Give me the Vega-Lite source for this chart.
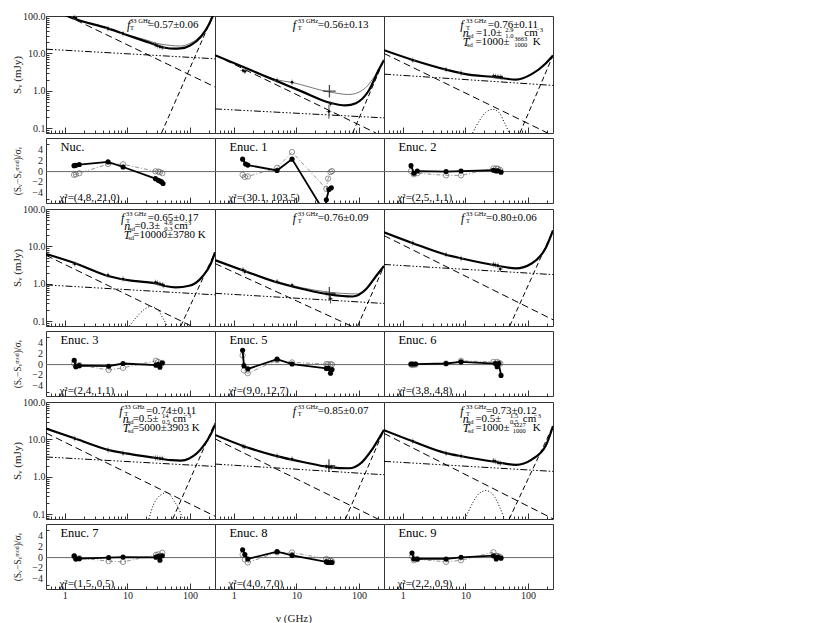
{
"$schema": "https://vega.github.io/schema/vega-lite/v6.json",
"background": "white",
"padding": {"left": 11, "top": 11, "right": 5, "bottom": 5},
"config": {
 "font": "Liberation Serif",
 "view": {"stroke": "#333", "strokeWidth": 1},
 "axis": {"labelFont": "Liberation Serif", "labelFontSize": 10, "labelColor": "#222", "titleFont": "Liberation Serif", "titleFontSize": 11, "titleFontWeight": "normal", "titleColor": "#222", "tickColor": "#333", "domain": false, "grid": false, "labelPadding": 7, "labelOverlap": false},
 "text": {"font": "Liberation Serif", "color": "#222"}
},
"datasets": {
"sed": [
{"r":0,"c":0,"k":"tot","nu":0.5,"S":200},{"r":0,"c":0,"k":"tot","nu":1.1,"S":100},{"r":0,"c":0,"k":"tot","nu":5,"S":46},{"r":0,"c":0,"k":"tot","nu":10,"S":30.7},{"r":0,"c":0,"k":"tot","nu":20,"S":20.7},{"r":0,"c":0,"k":"tot","nu":30,"S":16.3},{"r":0,"c":0,"k":"tot","nu":40,"S":14.2},{"r":0,"c":0,"k":"tot","nu":55,"S":13.4},{"r":0,"c":0,"k":"tot","nu":70,"S":13.6},{"r":0,"c":0,"k":"tot","nu":100,"S":16.3},{"r":0,"c":0,"k":"tot","nu":150,"S":28.4},{"r":0,"c":0,"k":"tot","nu":200,"S":58.8},{"r":0,"c":0,"k":"tot","nu":230,"S":100},{"r":0,"c":0,"k":"tot","nu":250,"S":135},
{"r":0,"c":0,"k":"alt","nu":0.5,"S":200},{"r":0,"c":0,"k":"alt","nu":1.1,"S":100},{"r":0,"c":0,"k":"alt","nu":5,"S":46.5},{"r":0,"c":0,"k":"alt","nu":10,"S":31.5},{"r":0,"c":0,"k":"alt","nu":20,"S":22.8},{"r":0,"c":0,"k":"alt","nu":30,"S":18.5},{"r":0,"c":0,"k":"alt","nu":50,"S":16.3},{"r":0,"c":0,"k":"alt","nu":70,"S":15.8},{"r":0,"c":0,"k":"alt","nu":100,"S":18.6},{"r":0,"c":0,"k":"alt","nu":150,"S":30.7},{"r":0,"c":0,"k":"alt","nu":200,"S":65},{"r":0,"c":0,"k":"alt","nu":225,"S":100},{"r":0,"c":0,"k":"alt","nu":250,"S":140},
{"r":0,"c":0,"k":"comp","s":"syn","nu":0.5,"S":189},{"r":0,"c":0,"k":"comp","s":"syn","nu":250,"S":1.27},
{"r":0,"c":0,"k":"comp","s":"ff","nu":0.5,"S":13},{"r":0,"c":0,"k":"comp","s":"ff","nu":250,"S":7.2},
{"r":0,"c":0,"k":"comp","s":"dust","nu":35,"S":0.075},{"r":0,"c":0,"k":"comp","s":"dust","nu":230,"S":100},
{"r":0,"c":0,"k":"pt","nu":1.4,"S":93},{"r":0,"c":0,"k":"pt","nu":1.5,"S":88},{"r":0,"c":0,"k":"pt","nu":4.9,"S":46},{"r":0,"c":0,"k":"pt","nu":8.5,"S":34},{"r":0,"c":0,"k":"pt","nu":28,"S":17},{"r":0,"c":0,"k":"pt","nu":30,"S":16},{"r":0,"c":0,"k":"pt","nu":33,"S":15},{"r":0,"c":0,"k":"pt","nu":36,"S":14.5},
{"r":0,"c":1,"k":"tot","nu":0.5,"S":9.0},{"r":0,"c":1,"k":"tot","nu":1.77,"S":3.7},{"r":0,"c":1,"k":"tot","nu":4.7,"S":1.88},{"r":0,"c":1,"k":"tot","nu":12.6,"S":0.94},{"r":0,"c":1,"k":"tot","nu":33,"S":0.49},{"r":0,"c":1,"k":"tot","nu":61,"S":0.41},{"r":0,"c":1,"k":"tot","nu":89,"S":0.47},{"r":0,"c":1,"k":"tot","nu":144,"S":1.04},{"r":0,"c":1,"k":"tot","nu":207,"S":3.7},{"r":0,"c":1,"k":"tot","nu":250,"S":6.7},
{"r":0,"c":1,"k":"alt","nu":0.5,"S":9.0},{"r":0,"c":1,"k":"alt","nu":1.77,"S":3.75},{"r":0,"c":1,"k":"alt","nu":4.7,"S":2.0},{"r":0,"c":1,"k":"alt","nu":8.2,"S":1.7},{"r":0,"c":1,"k":"alt","nu":33,"S":0.94},{"r":0,"c":1,"k":"alt","nu":69,"S":0.8},{"r":0,"c":1,"k":"alt","nu":113,"S":1.04},{"r":0,"c":1,"k":"alt","nu":186,"S":2.8},{"r":0,"c":1,"k":"alt","nu":250,"S":6.7},
{"r":0,"c":1,"k":"comp","s":"syn","nu":0.5,"S":9.0},{"r":0,"c":1,"k":"comp","s":"syn","nu":186,"S":0.075},
{"r":0,"c":1,"k":"comp","s":"ff","nu":0.5,"S":0.33},{"r":0,"c":1,"k":"comp","s":"ff","nu":250,"S":0.19},
{"r":0,"c":1,"k":"comp","s":"dust","nu":79,"S":0.075},{"r":0,"c":1,"k":"comp","s":"dust","nu":250,"S":6.7},
{"r":0,"c":1,"k":"pt","nu":1.4,"S":3.5},{"r":0,"c":1,"k":"pt","nu":1.5,"S":3.3},{"r":0,"c":1,"k":"pt","nu":4.9,"S":1.9},{"r":0,"c":1,"k":"pt","nu":8.5,"S":1.7,"lo":1.55,"hi":1.85},{"r":0,"c":1,"k":"pt","nu":33,"S":0.28,"lo":0.18,"hi":0.42},{"r":0,"c":1,"k":"pt","nu":35,"S":0.45},
{"r":0,"c":1,"k":"big","nu":33.6,"S":0.98},
{"r":0,"c":2,"k":"tot","nu":0.5,"S":12.2},{"r":0,"c":2,"k":"tot","nu":1.44,"S":6.7},{"r":0,"c":2,"k":"tot","nu":4.9,"S":3.7},{"r":0,"c":2,"k":"tot","nu":9.1,"S":2.9},{"r":0,"c":2,"k":"tot","nu":31,"S":2.3},{"r":0,"c":2,"k":"tot","nu":64,"S":2.0},{"r":0,"c":2,"k":"tot","nu":114,"S":2.8},{"r":0,"c":2,"k":"tot","nu":193,"S":5.5},{"r":0,"c":2,"k":"tot","nu":250,"S":8.8},
{"r":0,"c":2,"k":"comp","s":"syn","nu":0.5,"S":10},{"r":0,"c":2,"k":"comp","s":"syn","nu":205,"S":0.075},
{"r":0,"c":2,"k":"comp","s":"ff","nu":0.5,"S":2.8},{"r":0,"c":2,"k":"comp","s":"ff","nu":250,"S":1.4},
{"r":0,"c":2,"k":"comp","s":"dust","nu":74,"S":0.075},{"r":0,"c":2,"k":"comp","s":"dust","nu":250,"S":8.8},
{"r":0,"c":2,"k":"spd","nu":13,"S":0.075},{"r":0,"c":2,"k":"spd","nu":16.7,"S":0.16},{"r":0,"c":2,"k":"spd","nu":21.3,"S":0.27},{"r":0,"c":2,"k":"spd","nu":27.3,"S":0.32},{"r":0,"c":2,"k":"spd","nu":34.6,"S":0.26},{"r":0,"c":2,"k":"spd","nu":41.6,"S":0.146},{"r":0,"c":2,"k":"spd","nu":50,"S":0.075},
{"r":0,"c":2,"k":"pt","nu":1.44,"S":6.6},{"r":0,"c":2,"k":"pt","nu":4.9,"S":3.7},{"r":0,"c":2,"k":"pt","nu":8.5,"S":3.0},{"r":0,"c":2,"k":"pt","nu":28,"S":2.5},{"r":0,"c":2,"k":"pt","nu":30,"S":2.45},{"r":0,"c":2,"k":"pt","nu":33,"S":2.4},{"r":0,"c":2,"k":"pt","nu":36,"S":2.35},{"r":0,"c":2,"k":"pt","nu":38,"S":2.3},
{"r":1,"c":0,"k":"tot","nu":0.5,"S":6.3},{"r":1,"c":0,"k":"tot","nu":1.5,"S":3.5},{"r":1,"c":0,"k":"tot","nu":5.1,"S":1.6},{"r":1,"c":0,"k":"tot","nu":10.7,"S":1.24},{"r":1,"c":0,"k":"tot","nu":20,"S":1.12},{"r":1,"c":0,"k":"tot","nu":28.5,"S":1.03},{"r":1,"c":0,"k":"tot","nu":40,"S":0.88},{"r":1,"c":0,"k":"tot","nu":59,"S":0.81},{"r":1,"c":0,"k":"tot","nu":97,"S":0.89},{"r":1,"c":0,"k":"tot","nu":159,"S":1.6},{"r":1,"c":0,"k":"tot","nu":215,"S":3.5},{"r":1,"c":0,"k":"tot","nu":250,"S":7.0},
{"r":1,"c":0,"k":"comp","s":"syn","nu":0.5,"S":5.8},{"r":1,"c":0,"k":"comp","s":"syn","nu":110,"S":0.072},
{"r":1,"c":0,"k":"comp","s":"ff","nu":0.5,"S":0.94},{"r":1,"c":0,"k":"comp","s":"ff","nu":250,"S":0.51},
{"r":1,"c":0,"k":"comp","s":"dust","nu":71,"S":0.075},{"r":1,"c":0,"k":"comp","s":"dust","nu":250,"S":7.0},
{"r":1,"c":0,"k":"spd","nu":10.7,"S":0.075},{"r":1,"c":0,"k":"spd","nu":14,"S":0.13},{"r":1,"c":0,"k":"spd","nu":18,"S":0.2},{"r":1,"c":0,"k":"spd","nu":23.7,"S":0.25},{"r":1,"c":0,"k":"spd","nu":30,"S":0.21},{"r":1,"c":0,"k":"spd","nu":36,"S":0.13},{"r":1,"c":0,"k":"spd","nu":43,"S":0.075},
{"r":1,"c":0,"k":"pt","nu":1.44,"S":3.4},{"r":1,"c":0,"k":"pt","nu":4.9,"S":1.7},{"r":1,"c":0,"k":"pt","nu":8.5,"S":1.35},{"r":1,"c":0,"k":"pt","nu":28,"S":1.1},{"r":1,"c":0,"k":"pt","nu":30,"S":1.05},{"r":1,"c":0,"k":"pt","nu":33,"S":1.0},{"r":1,"c":0,"k":"pt","nu":36,"S":0.95},{"r":1,"c":0,"k":"pt","nu":38,"S":0.9},
{"r":1,"c":1,"k":"tot","nu":0.5,"S":4.3},{"r":1,"c":1,"k":"tot","nu":1.56,"S":2.15},{"r":1,"c":1,"k":"tot","nu":4.5,"S":1.14},{"r":1,"c":1,"k":"tot","nu":12.6,"S":0.73},{"r":1,"c":1,"k":"tot","nu":33.5,"S":0.52},{"r":1,"c":1,"k":"tot","nu":79,"S":0.46},{"r":1,"c":1,"k":"tot","nu":130,"S":0.73},{"r":1,"c":1,"k":"tot","nu":186,"S":1.6},{"r":1,"c":1,"k":"tot","nu":250,"S":3.0},
{"r":1,"c":1,"k":"alt","nu":0.5,"S":4.3},{"r":1,"c":1,"k":"alt","nu":1.56,"S":2.2},{"r":1,"c":1,"k":"alt","nu":4.5,"S":1.2},{"r":1,"c":1,"k":"alt","nu":12.6,"S":0.78},{"r":1,"c":1,"k":"alt","nu":33.5,"S":0.6},{"r":1,"c":1,"k":"alt","nu":89,"S":0.54},{"r":1,"c":1,"k":"alt","nu":140,"S":0.8},{"r":1,"c":1,"k":"alt","nu":190,"S":1.7},{"r":1,"c":1,"k":"alt","nu":250,"S":3.0},
{"r":1,"c":1,"k":"comp","s":"syn","nu":0.5,"S":3.5},{"r":1,"c":1,"k":"comp","s":"syn","nu":79,"S":0.072},
{"r":1,"c":1,"k":"comp","s":"ff","nu":0.5,"S":0.56},{"r":1,"c":1,"k":"comp","s":"ff","nu":250,"S":0.30},
{"r":1,"c":1,"k":"comp","s":"dust","nu":95,"S":0.075},{"r":1,"c":1,"k":"comp","s":"dust","nu":250,"S":3.0},
{"r":1,"c":1,"k":"pt","nu":1.4,"S":2.4},{"r":1,"c":1,"k":"pt","nu":1.5,"S":2.1},{"r":1,"c":1,"k":"pt","nu":4.9,"S":1.15},{"r":1,"c":1,"k":"pt","nu":8.5,"S":0.92},{"r":1,"c":1,"k":"pt","nu":30,"S":0.55},{"r":1,"c":1,"k":"pt","nu":35,"S":0.4,"lo":0.3,"hi":0.5},
{"r":1,"c":1,"k":"big","nu":33.5,"S":0.56},
{"r":1,"c":2,"k":"tot","nu":0.5,"S":23.8},{"r":1,"c":2,"k":"tot","nu":1.44,"S":12.2},{"r":1,"c":2,"k":"tot","nu":4.9,"S":6.0},{"r":1,"c":2,"k":"tot","nu":9.1,"S":4.7},{"r":1,"c":2,"k":"tot","nu":31,"S":3.1},{"r":1,"c":2,"k":"tot","nu":64,"S":2.6},{"r":1,"c":2,"k":"tot","nu":114,"S":3.5},{"r":1,"c":2,"k":"tot","nu":193,"S":9.4},{"r":1,"c":2,"k":"tot","nu":250,"S":26.8},
{"r":1,"c":2,"k":"comp","s":"syn","nu":0.5,"S":19.5},{"r":1,"c":2,"k":"comp","s":"syn","nu":250,"S":0.11},
{"r":1,"c":2,"k":"comp","s":"ff","nu":0.5,"S":3.3},{"r":1,"c":2,"k":"comp","s":"ff","nu":250,"S":1.77},
{"r":1,"c":2,"k":"comp","s":"dust","nu":51,"S":0.075},{"r":1,"c":2,"k":"comp","s":"dust","nu":250,"S":26.8},
{"r":1,"c":2,"k":"pt","nu":1.44,"S":12.3},{"r":1,"c":2,"k":"pt","nu":4.9,"S":6.0},{"r":1,"c":2,"k":"pt","nu":8.5,"S":4.8},{"r":1,"c":2,"k":"pt","nu":28,"S":3.3},{"r":1,"c":2,"k":"pt","nu":30,"S":3.2},{"r":1,"c":2,"k":"pt","nu":33,"S":3.1},{"r":1,"c":2,"k":"pt","nu":36,"S":2.5,"lo":2.1,"hi":2.9},
{"r":2,"c":0,"k":"tot","nu":0.5,"S":19.5},{"r":2,"c":0,"k":"tot","nu":1.5,"S":10.4},{"r":2,"c":0,"k":"tot","nu":5.1,"S":5.2},{"r":2,"c":0,"k":"tot","nu":10.7,"S":4.1},{"r":2,"c":0,"k":"tot","nu":28.5,"S":3.2},{"r":2,"c":0,"k":"tot","nu":50,"S":2.8},{"r":2,"c":0,"k":"tot","nu":71,"S":2.73},{"r":2,"c":0,"k":"tot","nu":97,"S":3.1},{"r":2,"c":0,"k":"tot","nu":159,"S":6.3},{"r":2,"c":0,"k":"tot","nu":215,"S":14},{"r":2,"c":0,"k":"tot","nu":250,"S":25},
{"r":2,"c":0,"k":"comp","s":"syn","nu":0.5,"S":14.9},{"r":2,"c":0,"k":"comp","s":"syn","nu":250,"S":0.089},
{"r":2,"c":0,"k":"comp","s":"ff","nu":0.5,"S":3.4},{"r":2,"c":0,"k":"comp","s":"ff","nu":250,"S":1.9},
{"r":2,"c":0,"k":"comp","s":"dust","nu":52.8,"S":0.075},{"r":2,"c":0,"k":"comp","s":"dust","nu":250,"S":28},
{"r":2,"c":0,"k":"spd","nu":22,"S":0.075},{"r":2,"c":0,"k":"spd","nu":26,"S":0.18},{"r":2,"c":0,"k":"spd","nu":30,"S":0.27},{"r":2,"c":0,"k":"spd","nu":35,"S":0.34},{"r":2,"c":0,"k":"spd","nu":41,"S":0.38},{"r":2,"c":0,"k":"spd","nu":48,"S":0.33},{"r":2,"c":0,"k":"spd","nu":56,"S":0.22},{"r":2,"c":0,"k":"spd","nu":65,"S":0.15},{"r":2,"c":0,"k":"spd","nu":76,"S":0.075},
{"r":2,"c":0,"k":"pt","nu":1.44,"S":10.5},{"r":2,"c":0,"k":"pt","nu":4.9,"S":5.2},{"r":2,"c":0,"k":"pt","nu":8.5,"S":4.3},{"r":2,"c":0,"k":"pt","nu":28,"S":3.2},{"r":2,"c":0,"k":"pt","nu":30,"S":3.2},{"r":2,"c":0,"k":"pt","nu":33,"S":3.1},{"r":2,"c":0,"k":"pt","nu":36,"S":3.1},
{"r":2,"c":1,"k":"tot","nu":0.5,"S":13.2},{"r":2,"c":1,"k":"tot","nu":1.56,"S":6.3},{"r":2,"c":1,"k":"tot","nu":4.5,"S":3.7},{"r":2,"c":1,"k":"tot","nu":12.6,"S":2.5},{"r":2,"c":1,"k":"tot","nu":33.5,"S":1.83},{"r":2,"c":1,"k":"tot","nu":70,"S":1.7},{"r":2,"c":1,"k":"tot","nu":101,"S":2.15},{"r":2,"c":1,"k":"tot","nu":166,"S":5.8},{"r":2,"c":1,"k":"tot","nu":250,"S":18},
{"r":2,"c":1,"k":"comp","s":"syn","nu":0.5,"S":10.4},{"r":2,"c":1,"k":"comp","s":"syn","nu":210,"S":0.072},
{"r":2,"c":1,"k":"comp","s":"ff","nu":0.5,"S":2.2},{"r":2,"c":1,"k":"comp","s":"ff","nu":250,"S":1.14},
{"r":2,"c":1,"k":"comp","s":"dust","nu":60.6,"S":0.075},{"r":2,"c":1,"k":"comp","s":"dust","nu":250,"S":18},
{"r":2,"c":1,"k":"pt","nu":1.4,"S":6.6},{"r":2,"c":1,"k":"pt","nu":1.5,"S":6.3},{"r":2,"c":1,"k":"pt","nu":4.9,"S":3.6},{"r":2,"c":1,"k":"pt","nu":8.5,"S":3.0},{"r":2,"c":1,"k":"pt","nu":30,"S":1.9},{"r":2,"c":1,"k":"pt","nu":33,"S":1.8},{"r":2,"c":1,"k":"pt","nu":36,"S":1.8},
{"r":2,"c":1,"k":"big","nu":33,"S":2.0},
{"r":2,"c":2,"k":"tot","nu":0.5,"S":17.7},{"r":2,"c":2,"k":"tot","nu":1.44,"S":8.9},{"r":2,"c":2,"k":"tot","nu":4.9,"S":4.3},{"r":2,"c":2,"k":"tot","nu":9.1,"S":3.5},{"r":2,"c":2,"k":"tot","nu":31,"S":2.5},{"r":2,"c":2,"k":"tot","nu":64,"S":2.1},{"r":2,"c":2,"k":"tot","nu":114,"S":2.9},{"r":2,"c":2,"k":"tot","nu":193,"S":7.0},{"r":2,"c":2,"k":"tot","nu":250,"S":22.8},
{"r":2,"c":2,"k":"comp","s":"syn","nu":0.5,"S":14.5},{"r":2,"c":2,"k":"comp","s":"syn","nu":250,"S":0.076},
{"r":2,"c":2,"k":"comp","s":"ff","nu":0.5,"S":2.6},{"r":2,"c":2,"k":"comp","s":"ff","nu":250,"S":1.4},
{"r":2,"c":2,"k":"comp","s":"dust","nu":50,"S":0.075},{"r":2,"c":2,"k":"comp","s":"dust","nu":250,"S":22.8},
{"r":2,"c":2,"k":"spd","nu":9.9,"S":0.075},{"r":2,"c":2,"k":"spd","nu":13,"S":0.2},{"r":2,"c":2,"k":"spd","nu":16.7,"S":0.365},{"r":2,"c":2,"k":"spd","nu":21.4,"S":0.43},{"r":2,"c":2,"k":"spd","nu":29,"S":0.3},{"r":2,"c":2,"k":"spd","nu":34.6,"S":0.166},{"r":2,"c":2,"k":"spd","nu":42,"S":0.075},
{"r":2,"c":2,"k":"pt","nu":1.44,"S":9},{"r":2,"c":2,"k":"pt","nu":4.9,"S":4.3},{"r":2,"c":2,"k":"pt","nu":8.5,"S":3.6},{"r":2,"c":2,"k":"pt","nu":28,"S":2.7},{"r":2,"c":2,"k":"pt","nu":30,"S":2.6},{"r":2,"c":2,"k":"pt","nu":33,"S":2.4},{"r":2,"c":2,"k":"pt","nu":36,"S":2.3},
{"r":0,"c":0,"k":"t","v":"i","t":"f","nu":9.84,"S":58.7},{"r":0,"c":0,"k":"t","v":"b","t":"T","nu":11.0,"S":47.8},{"r":0,"c":0,"k":"t","v":"p","t":"33 GHz","nu":11.0,"S":74.5},{"r":0,"c":0,"k":"t","v":"m","t":"=0.57±0.06","nu":21.1,"S":58.7},
{"r":0,"c":1,"k":"t","v":"i","t":"f","nu":8.71,"S":58.7},{"r":0,"c":1,"k":"t","v":"b","t":"T","nu":10.5,"S":47.8},{"r":0,"c":1,"k":"t","v":"p","t":"33 GHz","nu":10.5,"S":74.5},{"r":0,"c":1,"k":"t","v":"m","t":"=0.56±0.13","nu":21.9,"S":58.7},
{"r":0,"c":2,"k":"t","v":"i","t":"f","nu":8.28,"S":58.7},{"r":0,"c":2,"k":"t","v":"b","t":"T","nu":10.2,"S":47.8},{"r":0,"c":2,"k":"t","v":"p","t":"33 GHz","nu":10.2,"S":74.5},{"r":0,"c":2,"k":"t","v":"m","t":"=0.76±0.11","nu":22.7,"S":58.7},
{"r":0,"c":2,"k":"t","v":"i","t":"n","nu":9.04,"S":34.5},{"r":0,"c":2,"k":"t","v":"b","t":"sd","nu":10.9,"S":28.9},{"r":0,"c":2,"k":"t","v":"m","t":"=1.0±","nu":14.7,"S":34.5},{"r":0,"c":2,"k":"t","v":"p","t":"2.9","nu":43.3,"S":42.5},{"r":0,"c":2,"k":"t","v":"b","t":"1.0","nu":43.3,"S":28.9},{"r":0,"c":2,"k":"t","v":"m","t":"cm","nu":87.2,"S":34.5},{"r":0,"c":2,"k":"t","v":"p","t":"−3","nu":134,"S":42.5},
{"r":0,"c":2,"k":"t","v":"i","t":"T","nu":9.04,"S":19.7},{"r":0,"c":2,"k":"t","v":"b","t":"sd","nu":10.6,"S":16.5},{"r":0,"c":2,"k":"t","v":"m","t":"=1000±","nu":14.4,"S":19.7},{"r":0,"c":2,"k":"t","v":"p","t":"3663","nu":60.3,"S":24.2},{"r":0,"c":2,"k":"t","v":"b","t":"1000","nu":60.3,"S":16.5},{"r":0,"c":2,"k":"t","v":"m","t":"K","nu":119,"S":19.7},
{"r":1,"c":0,"k":"t","v":"i","t":"f","nu":7.89,"S":58.7},{"r":1,"c":0,"k":"t","v":"b","t":"T","nu":9.48,"S":47.8},{"r":1,"c":0,"k":"t","v":"p","t":"33 GHz","nu":9.48,"S":74.5},{"r":1,"c":0,"k":"t","v":"m","t":"=0.65±0.17","nu":21.1,"S":58.7},
{"r":1,"c":0,"k":"t","v":"i","t":"n","nu":8.91,"S":34.5},{"r":1,"c":0,"k":"t","v":"b","t":"sd","nu":10.7,"S":28.9},{"r":1,"c":0,"k":"t","v":"m","t":"=0.3±","nu":12.9,"S":34.5},{"r":1,"c":0,"k":"t","v":"p","t":"4.6","nu":38.8,"S":42.5},{"r":1,"c":0,"k":"t","v":"b","t":"0.3","nu":38.8,"S":28.9},{"r":1,"c":0,"k":"t","v":"m","t":"cm","nu":56.0,"S":34.5},{"r":1,"c":0,"k":"t","v":"p","t":"−3","nu":81.0,"S":42.5},
{"r":1,"c":0,"k":"t","v":"i","t":"T","nu":8.71,"S":19.7},{"r":1,"c":0,"k":"t","v":"b","t":"sd","nu":10.3,"S":16.5},{"r":1,"c":0,"k":"t","v":"m","t":"=10000±3780 K","nu":12.4,"S":19.7},
{"r":1,"c":1,"k":"t","v":"i","t":"f","nu":8.71,"S":58.7},{"r":1,"c":1,"k":"t","v":"b","t":"T","nu":10.5,"S":47.8},{"r":1,"c":1,"k":"t","v":"p","t":"33 GHz","nu":10.5,"S":74.5},{"r":1,"c":1,"k":"t","v":"m","t":"=0.76±0.09","nu":21.9,"S":58.7},
{"r":1,"c":2,"k":"t","v":"i","t":"f","nu":8.49,"S":58.7},{"r":1,"c":2,"k":"t","v":"b","t":"T","nu":10.2,"S":47.8},{"r":1,"c":2,"k":"t","v":"p","t":"33 GHz","nu":10.2,"S":74.5},{"r":1,"c":2,"k":"t","v":"m","t":"=0.80±0.06","nu":21.3,"S":58.7},
{"r":2,"c":0,"k":"t","v":"i","t":"f","nu":7.41,"S":58.7},{"r":2,"c":0,"k":"t","v":"b","t":"T","nu":8.91,"S":47.8},{"r":2,"c":0,"k":"t","v":"p","t":"33 GHz","nu":8.91,"S":74.5},{"r":2,"c":0,"k":"t","v":"m","t":"=0.74±0.11","nu":19.8,"S":58.7},
{"r":2,"c":0,"k":"t","v":"i","t":"n","nu":8.40,"S":34.5},{"r":2,"c":0,"k":"t","v":"b","t":"sd","nu":10.1,"S":28.9},{"r":2,"c":0,"k":"t","v":"m","t":"=0.5±","nu":12.1,"S":34.5},{"r":2,"c":0,"k":"t","v":"p","t":"14","nu":35.6,"S":42.5},{"r":2,"c":0,"k":"t","v":"b","t":"0.5","nu":35.6,"S":28.9},{"r":2,"c":0,"k":"t","v":"m","t":"cm","nu":52.8,"S":34.5},{"r":2,"c":0,"k":"t","v":"p","t":"−3","nu":81.0,"S":42.5},
{"r":2,"c":0,"k":"t","v":"i","t":"T","nu":8.40,"S":19.7},{"r":2,"c":0,"k":"t","v":"b","t":"sd","nu":10.1,"S":16.5},{"r":2,"c":0,"k":"t","v":"m","t":"=5000±3903 K","nu":12.1,"S":19.7},
{"r":2,"c":1,"k":"t","v":"i","t":"f","nu":8.71,"S":58.7},{"r":2,"c":1,"k":"t","v":"b","t":"T","nu":10.5,"S":47.8},{"r":2,"c":1,"k":"t","v":"p","t":"33 GHz","nu":10.5,"S":74.5},{"r":2,"c":1,"k":"t","v":"m","t":"=0.85±0.07","nu":21.9,"S":58.7},
{"r":2,"c":2,"k":"t","v":"i","t":"f","nu":8.28,"S":58.7},{"r":2,"c":2,"k":"t","v":"b","t":"T","nu":10.2,"S":47.8},{"r":2,"c":2,"k":"t","v":"p","t":"33 GHz","nu":10.2,"S":74.5},{"r":2,"c":2,"k":"t","v":"m","t":"=0.73±0.12","nu":21.3,"S":58.7},
{"r":2,"c":2,"k":"t","v":"i","t":"n","nu":9.04,"S":34.5},{"r":2,"c":2,"k":"t","v":"b","t":"sd","nu":10.9,"S":28.9},{"r":2,"c":2,"k":"t","v":"m","t":"=0.5±","nu":14.4,"S":34.5},{"r":2,"c":2,"k":"t","v":"p","t":"1.5","nu":51.5,"S":42.5},{"r":2,"c":2,"k":"t","v":"b","t":"0.5","nu":51.5,"S":28.9},{"r":2,"c":2,"k":"t","v":"m","t":"cm","nu":82.2,"S":34.5},{"r":2,"c":2,"k":"t","v":"p","t":"−3","nu":124.5,"S":42.5},
{"r":2,"c":2,"k":"t","v":"i","t":"T","nu":9.04,"S":19.7},{"r":2,"c":2,"k":"t","v":"b","t":"sd","nu":10.9,"S":16.5},{"r":2,"c":2,"k":"t","v":"m","t":"=1000±","nu":14.4,"S":19.7},{"r":2,"c":2,"k":"t","v":"p","t":"3227","nu":56.9,"S":24.2},{"r":2,"c":2,"k":"t","v":"b","t":"1000","nu":56.9,"S":16.5},{"r":2,"c":2,"k":"t","v":"m","t":"K","nu":119,"S":19.7}
],
"res": [
{"r":0,"c":0,"k":"z","nu":0.5,"res":0},{"r":0,"c":0,"k":"z","nu":250,"res":0},{"r":0,"c":1,"k":"z","nu":0.5,"res":0},{"r":0,"c":1,"k":"z","nu":250,"res":0},{"r":0,"c":2,"k":"z","nu":0.5,"res":0},{"r":0,"c":2,"k":"z","nu":250,"res":0},
{"r":1,"c":0,"k":"z","nu":0.5,"res":0},{"r":1,"c":0,"k":"z","nu":250,"res":0},{"r":1,"c":1,"k":"z","nu":0.5,"res":0},{"r":1,"c":1,"k":"z","nu":250,"res":0},{"r":1,"c":2,"k":"z","nu":0.5,"res":0},{"r":1,"c":2,"k":"z","nu":250,"res":0},
{"r":2,"c":0,"k":"z","nu":0.5,"res":0},{"r":2,"c":0,"k":"z","nu":250,"res":0},{"r":2,"c":1,"k":"z","nu":0.5,"res":0},{"r":2,"c":1,"k":"z","nu":250,"res":0},{"r":2,"c":2,"k":"z","nu":0.5,"res":0},{"r":2,"c":2,"k":"z","nu":250,"res":0},
{"r":0,"c":0,"k":"yl","nu":0.447,"res":4,"t":"4"},{"r":0,"c":0,"k":"yl","nu":0.447,"res":2,"t":"2"},{"r":0,"c":0,"k":"yl","nu":0.447,"res":0,"t":"0"},{"r":0,"c":0,"k":"yl","nu":0.447,"res":-2,"t":"−2"},{"r":0,"c":0,"k":"yl","nu":0.447,"res":-4,"t":"−4"},
{"r":1,"c":0,"k":"yl","nu":0.447,"res":4,"t":"4"},{"r":1,"c":0,"k":"yl","nu":0.447,"res":2,"t":"2"},{"r":1,"c":0,"k":"yl","nu":0.447,"res":0,"t":"0"},{"r":1,"c":0,"k":"yl","nu":0.447,"res":-2,"t":"−2"},{"r":1,"c":0,"k":"yl","nu":0.447,"res":-4,"t":"−4"},
{"r":2,"c":0,"k":"yl","nu":0.447,"res":4,"t":"4"},{"r":2,"c":0,"k":"yl","nu":0.447,"res":2,"t":"2"},{"r":2,"c":0,"k":"yl","nu":0.447,"res":0,"t":"0"},{"r":2,"c":0,"k":"yl","nu":0.447,"res":-2,"t":"−2"},{"r":2,"c":0,"k":"yl","nu":0.447,"res":-4,"t":"−4"},
{"r":0,"c":0,"k":"lab","nu":0.85,"res":4.5,"t":"Nuc."},{"r":0,"c":0,"k":"chi","nu":0.82,"res":-4.9,"t":"χ²=(4.8, 21.0)"},
{"r":0,"c":0,"k":"f","nu":1.4,"res":1.1},{"r":0,"c":0,"k":"f","nu":1.5,"res":1.15},{"r":0,"c":0,"k":"f","nu":1.7,"res":1.3},{"r":0,"c":0,"k":"f","nu":4.9,"res":1.8},{"r":0,"c":0,"k":"f","nu":8.5,"res":0.85},{"r":0,"c":0,"k":"f","nu":28,"res":-1.3},{"r":0,"c":0,"k":"f","nu":31,"res":-1.6},{"r":0,"c":0,"k":"f","nu":33,"res":-1.75},{"r":0,"c":0,"k":"f","nu":35,"res":-1.9},{"r":0,"c":0,"k":"f","nu":37,"res":-2.2},
{"r":0,"c":0,"k":"o","nu":1.4,"res":-0.6},{"r":0,"c":0,"k":"o","nu":1.5,"res":-0.5},{"r":0,"c":0,"k":"o","nu":1.7,"res":-0.3},{"r":0,"c":0,"k":"o","nu":4.9,"res":1.4},{"r":0,"c":0,"k":"o","nu":8.5,"res":1.35},{"r":0,"c":0,"k":"o","nu":28,"res":0.05},{"r":0,"c":0,"k":"o","nu":31,"res":0},{"r":0,"c":0,"k":"o","nu":33,"res":-0.1},{"r":0,"c":0,"k":"o","nu":36,"res":-0.3},
{"r":0,"c":1,"k":"lab","nu":0.85,"res":4.5,"t":"Enuc. 1"},{"r":0,"c":1,"k":"chi","nu":0.82,"res":-4.9,"t":"χ²=(30.1, 103.5)"},
{"r":0,"c":1,"k":"f","nu":1.38,"res":2.3},{"r":0,"c":1,"k":"f","nu":1.54,"res":1.4},{"r":0,"c":1,"k":"f","nu":1.67,"res":1.2},{"r":0,"c":1,"k":"f","nu":4.9,"res":0.2},{"r":0,"c":1,"k":"f","nu":8.5,"res":2.3},{"r":0,"c":1,"k":"f","nu":28,"res":-7.5},{"r":0,"c":1,"k":"f","nu":30,"res":-5.2},{"r":0,"c":1,"k":"f","nu":33,"res":-3.3},{"r":0,"c":1,"k":"f","nu":36,"res":-3.0},
{"r":0,"c":1,"k":"o","nu":1.38,"res":-0.6},{"r":0,"c":1,"k":"o","nu":1.5,"res":-1.0},{"r":0,"c":1,"k":"o","nu":1.67,"res":-0.9},{"r":0,"c":1,"k":"o","nu":4.9,"res":0.7},{"r":0,"c":1,"k":"o","nu":8.5,"res":3.6},{"r":0,"c":1,"k":"o","nu":30,"res":-3.2},{"r":0,"c":1,"k":"o","nu":32,"res":-1.3},{"r":0,"c":1,"k":"o","nu":35,"res":-0.1},{"r":0,"c":1,"k":"o","nu":37,"res":0.1},
{"r":0,"c":2,"k":"lab","nu":0.85,"res":4.5,"t":"Enuc. 2"},{"r":0,"c":2,"k":"chi","nu":0.82,"res":-4.9,"t":"χ²=(2.5, 1.1)"},
{"r":0,"c":2,"k":"f","nu":1.35,"res":1.1},{"r":0,"c":2,"k":"f","nu":1.5,"res":-0.3},{"r":0,"c":2,"k":"f","nu":1.7,"res":0.1},{"r":0,"c":2,"k":"f","nu":4.9,"res":0},{"r":0,"c":2,"k":"f","nu":8.5,"res":0.1},{"r":0,"c":2,"k":"f","nu":28,"res":0.25},{"r":0,"c":2,"k":"f","nu":31,"res":0.1},{"r":0,"c":2,"k":"f","nu":33,"res":0.15},{"r":0,"c":2,"k":"f","nu":37,"res":-0.1},
{"r":0,"c":2,"k":"o","nu":1.35,"res":0.1},{"r":0,"c":2,"k":"o","nu":1.5,"res":-0.5},{"r":0,"c":2,"k":"o","nu":1.7,"res":-0.3},{"r":0,"c":2,"k":"o","nu":4.9,"res":-0.7},{"r":0,"c":2,"k":"o","nu":8.5,"res":-0.7},{"r":0,"c":2,"k":"o","nu":28,"res":0.6},{"r":0,"c":2,"k":"o","nu":31,"res":0.6},{"r":0,"c":2,"k":"o","nu":33,"res":0.5},{"r":0,"c":2,"k":"o","nu":36,"res":0.3},
{"r":1,"c":0,"k":"lab","nu":0.85,"res":4.5,"t":"Enuc. 3"},{"r":1,"c":0,"k":"chi","nu":0.82,"res":-4.9,"t":"χ²=(2.4, 1.1)"},
{"r":1,"c":0,"k":"f","nu":1.41,"res":0.8},{"r":1,"c":0,"k":"f","nu":1.5,"res":-0.4},{"r":1,"c":0,"k":"f","nu":1.7,"res":-0.2},{"r":1,"c":0,"k":"f","nu":5,"res":-0.3},{"r":1,"c":0,"k":"f","nu":8.5,"res":0.2},{"r":1,"c":0,"k":"f","nu":28.5,"res":-0.1},{"r":1,"c":0,"k":"f","nu":31,"res":0},{"r":1,"c":0,"k":"f","nu":33,"res":-0.5},{"r":1,"c":0,"k":"f","nu":36,"res":0.3},
{"r":1,"c":0,"k":"o","nu":1.41,"res":0.2},{"r":1,"c":0,"k":"o","nu":1.5,"res":-0.3},{"r":1,"c":0,"k":"o","nu":1.7,"res":-0.1},{"r":1,"c":0,"k":"o","nu":5,"res":-1.0},{"r":1,"c":0,"k":"o","nu":8.5,"res":-0.6},{"r":1,"c":0,"k":"o","nu":28.5,"res":0.7},{"r":1,"c":0,"k":"o","nu":31,"res":0.5},{"r":1,"c":0,"k":"o","nu":33,"res":0.2},{"r":1,"c":0,"k":"o","nu":36,"res":0.3},
{"r":1,"c":1,"k":"lab","nu":0.85,"res":4.5,"t":"Enuc. 5"},{"r":1,"c":1,"k":"chi","nu":0.82,"res":-4.9,"t":"χ²=(9.0, 12.7)"},
{"r":1,"c":1,"k":"f","nu":1.38,"res":2.65},{"r":1,"c":1,"k":"f","nu":1.45,"res":-0.2},{"r":1,"c":1,"k":"f","nu":1.67,"res":-0.8},{"r":1,"c":1,"k":"f","nu":4.9,"res":1.0},{"r":1,"c":1,"k":"f","nu":8.5,"res":0.1},{"r":1,"c":1,"k":"f","nu":30,"res":-0.7},{"r":1,"c":1,"k":"f","nu":32,"res":-0.7},{"r":1,"c":1,"k":"f","nu":35,"res":-1.6},{"r":1,"c":1,"k":"f","nu":37,"res":-0.9},
{"r":1,"c":1,"k":"o","nu":1.38,"res":1.7},{"r":1,"c":1,"k":"o","nu":1.45,"res":-1.1},{"r":1,"c":1,"k":"o","nu":1.67,"res":-1.6},{"r":1,"c":1,"k":"o","nu":4.9,"res":0.8},{"r":1,"c":1,"k":"o","nu":8.5,"res":0.4},{"r":1,"c":1,"k":"o","nu":30,"res":0.1},{"r":1,"c":1,"k":"o","nu":32,"res":0.05},{"r":1,"c":1,"k":"o","nu":35,"res":0.1},{"r":1,"c":1,"k":"o","nu":37,"res":0},
{"r":1,"c":2,"k":"lab","nu":0.85,"res":4.5,"t":"Enuc. 6"},{"r":1,"c":2,"k":"chi","nu":0.82,"res":-4.9,"t":"χ²=(3.8, 4.8)"},
{"r":1,"c":2,"k":"f","nu":1.35,"res":0.1},{"r":1,"c":2,"k":"f","nu":1.45,"res":0.1},{"r":1,"c":2,"k":"f","nu":1.6,"res":0.1},{"r":1,"c":2,"k":"f","nu":4.9,"res":0.2},{"r":1,"c":2,"k":"f","nu":8.5,"res":0.5},{"r":1,"c":2,"k":"f","nu":30,"res":0.2},{"r":1,"c":2,"k":"f","nu":32,"res":-0.4},{"r":1,"c":2,"k":"f","nu":34,"res":0.2},{"r":1,"c":2,"k":"f","nu":37,"res":-2.0},
{"r":1,"c":2,"k":"o","nu":1.35,"res":0},{"r":1,"c":2,"k":"o","nu":1.45,"res":-0.1},{"r":1,"c":2,"k":"o","nu":1.6,"res":0},{"r":1,"c":2,"k":"o","nu":4.9,"res":0.2},{"r":1,"c":2,"k":"o","nu":8.5,"res":0.7},{"r":1,"c":2,"k":"o","nu":28,"res":0.5},{"r":1,"c":2,"k":"o","nu":32,"res":0.5},{"r":1,"c":2,"k":"o","nu":34,"res":0.3},{"r":1,"c":2,"k":"o","nu":36,"res":0.2},
{"r":2,"c":0,"k":"lab","nu":0.85,"res":4.5,"t":"Enuc. 7"},{"r":2,"c":0,"k":"chi","nu":0.82,"res":-4.9,"t":"χ²=(1.5, 0.5)"},
{"r":2,"c":0,"k":"f","nu":1.41,"res":0.35},{"r":2,"c":0,"k":"f","nu":1.5,"res":-0.25},{"r":2,"c":0,"k":"f","nu":1.7,"res":-0.2},{"r":2,"c":0,"k":"f","nu":5,"res":0},{"r":2,"c":0,"k":"f","nu":8.5,"res":0.1},{"r":2,"c":0,"k":"f","nu":28.5,"res":0.05},{"r":2,"c":0,"k":"f","nu":31,"res":0.25},{"r":2,"c":0,"k":"f","nu":33,"res":-0.5},{"r":2,"c":0,"k":"f","nu":36,"res":0.35},
{"r":2,"c":0,"k":"o","nu":1.41,"res":0.2},{"r":2,"c":0,"k":"o","nu":1.5,"res":-0.2},{"r":2,"c":0,"k":"o","nu":1.7,"res":-0.1},{"r":2,"c":0,"k":"o","nu":5,"res":-0.65},{"r":2,"c":0,"k":"o","nu":8.5,"res":-0.8},{"r":2,"c":0,"k":"o","nu":28.5,"res":0.5},{"r":2,"c":0,"k":"o","nu":31,"res":0.6},{"r":2,"c":0,"k":"o","nu":33,"res":0.3},{"r":2,"c":0,"k":"o","nu":36,"res":0.9},
{"r":2,"c":1,"k":"lab","nu":0.85,"res":4.5,"t":"Enuc. 8"},{"r":2,"c":1,"k":"chi","nu":0.82,"res":-4.9,"t":"χ²=(4.0, 7.0)"},
{"r":2,"c":1,"k":"f","nu":1.38,"res":1.45},{"r":2,"c":1,"k":"f","nu":1.5,"res":0.55},{"r":2,"c":1,"k":"f","nu":1.67,"res":-0.25},{"r":2,"c":1,"k":"f","nu":4.9,"res":1.1},{"r":2,"c":1,"k":"f","nu":8.5,"res":0.4},{"r":2,"c":1,"k":"f","nu":30,"res":-0.8},{"r":2,"c":1,"k":"f","nu":32,"res":-0.9},{"r":2,"c":1,"k":"f","nu":35,"res":-0.9},{"r":2,"c":1,"k":"f","nu":37,"res":-0.9},
{"r":2,"c":1,"k":"o","nu":1.38,"res":0.55},{"r":2,"c":1,"k":"o","nu":1.5,"res":-0.35},{"r":2,"c":1,"k":"o","nu":1.67,"res":-0.9},{"r":2,"c":1,"k":"o","nu":4.9,"res":0.95},{"r":2,"c":1,"k":"o","nu":8.5,"res":0.95},{"r":2,"c":1,"k":"o","nu":30,"res":-0.25},{"r":2,"c":1,"k":"o","nu":32,"res":-0.5},{"r":2,"c":1,"k":"o","nu":35,"res":-0.6},{"r":2,"c":1,"k":"o","nu":37,"res":-0.7},
{"r":2,"c":2,"k":"lab","nu":0.85,"res":4.5,"t":"Enuc. 9"},{"r":2,"c":2,"k":"chi","nu":0.82,"res":-4.9,"t":"χ²=(2.2, 0.9)"},
{"r":2,"c":2,"k":"f","nu":1.4,"res":0.85},{"r":2,"c":2,"k":"f","nu":1.5,"res":-0.25},{"r":2,"c":2,"k":"f","nu":1.7,"res":-0.25},{"r":2,"c":2,"k":"f","nu":4.9,"res":-0.25},{"r":2,"c":2,"k":"f","nu":8.5,"res":0.05},{"r":2,"c":2,"k":"f","nu":28,"res":0.35},{"r":2,"c":2,"k":"f","nu":31,"res":-0.25},{"r":2,"c":2,"k":"f","nu":33,"res":0.1},{"r":2,"c":2,"k":"f","nu":37,"res":-0.1},
{"r":2,"c":2,"k":"o","nu":1.4,"res":0.2},{"r":2,"c":2,"k":"o","nu":1.5,"res":-0.5},{"r":2,"c":2,"k":"o","nu":1.7,"res":-0.3},{"r":2,"c":2,"k":"o","nu":4.9,"res":-0.8},{"r":2,"c":2,"k":"o","nu":8.5,"res":-0.5},{"r":2,"c":2,"k":"o","nu":28,"res":1.0},{"r":2,"c":2,"k":"o","nu":31,"res":0.3},{"r":2,"c":2,"k":"o","nu":33,"res":0.3},{"r":2,"c":2,"k":"o","nu":36,"res":0.1}
]
},
"spacing": 0,
"vconcat": [
{"data": {"name": "sed"}, "transform": [{"filter": "datum.r==0"}], "facet": {"column": {"field": "c", "type": "ordinal", "header": null}}, "spacing": 0, "bounds": "flush",
 "spec": {"width": 169, "height": 117, "layer": [
  {"transform": [{"filter": "datum.k=='comp'"}], "mark": {"type": "line", "color": "black", "strokeWidth": 1, "clip": true},
   "encoding": {"x": {"field": "nu", "type": "quantitative", "scale": {"type": "log", "domain": [0.5, 250], "nice": false}, "axis": {"title": null, "labels": false, "minExtent": 0, "maxExtent": 0, "values": [0.5,0.6,0.7,0.8,0.9,1,2,3,4,5,6,7,8,9,10,20,30,40,50,60,70,80,90,100,200], "tickSize": {"condition": {"test": "datum.value==1||datum.value==10||datum.value==100", "value": -6}, "value": -3}}},
    "y": {"field": "S", "type": "quantitative", "scale": {"type": "log", "domain": [0.075, 100], "nice": false}, "axis": {"title": "Sᵥ (mJy)", "titleX": -24, "values": [0.08,0.09,0.1,0.2,0.3,0.4,0.5,0.6,0.7,0.8,0.9,1,2,3,4,5,6,7,8,9,10,20,30,40,50,60,70,80,90,100], "labelExpr": "datum.value==0.1?'0.1':datum.value==1?'1.0':datum.value==10?'10.0':datum.value==100?'100.0':''", "tickSize": {"condition": {"test": "datum.value==0.1||datum.value==1||datum.value==10||datum.value==100", "value": -6}, "value": -3}}},
    "detail": {"field": "s"},
    "strokeDash": {"field": "s", "type": "nominal", "scale": {"domain": ["syn","ff","dust"], "range": [[7,4],[7,2,1.5,2,1.5,2,1.5,2],[5,3]]}, "legend": null}}},
  {"transform": [{"filter": "datum.k=='spd'"}], "mark": {"type": "line", "color": "black", "strokeWidth": 1, "strokeDash": [1,2], "interpolate": "monotone", "clip": true},
   "encoding": {"x": {"field": "nu", "type": "quantitative", "scale": {"type": "log", "domain": [0.5, 250], "nice": false}}, "y": {"field": "S", "type": "quantitative", "scale": {"type": "log", "domain": [0.075, 100], "nice": false}}}},
  {"transform": [{"filter": "datum.k=='alt'"}], "mark": {"type": "line", "color": "#777", "strokeWidth": 1, "interpolate": "monotone", "clip": true},
   "encoding": {"x": {"field": "nu", "type": "quantitative", "scale": {"type": "log", "domain": [0.5, 250], "nice": false}}, "y": {"field": "S", "type": "quantitative", "scale": {"type": "log", "domain": [0.075, 100], "nice": false}}}},
  {"transform": [{"filter": "datum.k=='tot'"}], "mark": {"type": "line", "color": "black", "strokeWidth": 2.2, "interpolate": "monotone", "clip": true},
   "encoding": {"x": {"field": "nu", "type": "quantitative", "scale": {"type": "log", "domain": [0.5, 250], "nice": false}}, "y": {"field": "S", "type": "quantitative", "scale": {"type": "log", "domain": [0.075, 100], "nice": false}}}},
  {"transform": [{"filter": "datum.k=='pt' && isValid(datum.lo)"}], "mark": {"type": "rule", "color": "#444", "strokeWidth": 1},
   "encoding": {"x": {"field": "nu", "type": "quantitative", "scale": {"type": "log", "domain": [0.5, 250], "nice": false}}, "y": {"field": "lo", "type": "quantitative", "scale": {"type": "log", "domain": [0.075, 100], "nice": false}}, "y2": {"field": "hi"}}},
  {"transform": [{"filter": "datum.k=='pt'"}], "mark": {"type": "point", "shape": "M-1,0L1,0M0,-1L0,1", "size": 30, "color": "#777", "strokeWidth": 1},
   "encoding": {"x": {"field": "nu", "type": "quantitative", "scale": {"type": "log", "domain": [0.5, 250], "nice": false}}, "y": {"field": "S", "type": "quantitative", "scale": {"type": "log", "domain": [0.075, 100], "nice": false}}}},
  {"transform": [{"filter": "datum.k=='pt'"}], "mark": {"type": "circle", "size": 6, "color": "black", "opacity": 1},
   "encoding": {"x": {"field": "nu", "type": "quantitative", "scale": {"type": "log", "domain": [0.5, 250], "nice": false}}, "y": {"field": "S", "type": "quantitative", "scale": {"type": "log", "domain": [0.075, 100], "nice": false}}}},
  {"transform": [{"filter": "datum.k=='big'"}], "mark": {"type": "point", "shape": "M-1,0L1,0M0,-1L0,1", "size": 160, "color": "black", "strokeWidth": 1.3},
   "encoding": {"x": {"field": "nu", "type": "quantitative", "scale": {"type": "log", "domain": [0.5, 250], "nice": false}}, "y": {"field": "S", "type": "quantitative", "scale": {"type": "log", "domain": [0.075, 100], "nice": false}}}},
  {"transform": [{"filter": "datum.k=='t' && datum.v=='m'"}], "mark": {"type": "text", "align": "left", "baseline": "middle", "fontSize": 11, "color": "black"},
   "encoding": {"x": {"field": "nu", "type": "quantitative", "scale": {"type": "log", "domain": [0.5, 250], "nice": false}}, "y": {"field": "S", "type": "quantitative", "scale": {"type": "log", "domain": [0.075, 100], "nice": false}}, "text": {"field": "t"}}},
  {"transform": [{"filter": "datum.k=='t' && datum.v=='i'"}], "mark": {"type": "text", "align": "left", "baseline": "middle", "fontSize": 12, "fontStyle": "italic", "color": "black"},
   "encoding": {"x": {"field": "nu", "type": "quantitative", "scale": {"type": "log", "domain": [0.5, 250], "nice": false}}, "y": {"field": "S", "type": "quantitative", "scale": {"type": "log", "domain": [0.075, 100], "nice": false}}, "text": {"field": "t"}}},
  {"transform": [{"filter": "datum.k=='t' && (datum.v=='p' || datum.v=='b')"}], "mark": {"type": "text", "align": "left", "baseline": "middle", "fontSize": 6.5, "color": "black"},
   "encoding": {"x": {"field": "nu", "type": "quantitative", "scale": {"type": "log", "domain": [0.5, 250], "nice": false}}, "y": {"field": "S", "type": "quantitative", "scale": {"type": "log", "domain": [0.075, 100], "nice": false}}, "text": {"field": "t"}}}
 ]}},
{"data": {"name": "res"}, "transform": [{"filter": "datum.r==0"}], "facet": {"column": {"field": "c", "type": "ordinal", "header": null}}, "spacing": 0, "bounds": "flush",
 "spec": {"width": 169, "height": 65, "layer": [
  {"transform": [{"filter": "datum.k=='z'"}], "mark": {"type": "line", "color": "#666", "strokeWidth": 1},
   "encoding": {"x": {"field": "nu", "type": "quantitative", "scale": {"type": "log", "domain": [0.5, 250], "nice": false}, "axis": {"title": null, "labels": false, "minExtent": 0, "maxExtent": 0, "values": [0.5,0.6,0.7,0.8,0.9,1,2,3,4,5,6,7,8,9,10,20,30,40,50,60,70,80,90,100,200], "tickSize": {"condition": {"test": "datum.value==1||datum.value==10||datum.value==100", "value": -6}, "value": -3}}},
    "y": {"field": "res", "type": "quantitative", "scale": {"domain": [-5.8, 6.2], "nice": false, "zero": false}, "axis": {"title": "(Sᵥ−Sᵥᵐᵒᵈ)/σᵥ", "titleFontSize": 9.5, "titleX": -24, "labels": false, "values": [-5,-4,-3,-2,-1,0,1,2,3,4,5], "tickSize": {"condition": {"test": "datum.value==4||datum.value==2||datum.value==0||datum.value==-2||datum.value==-4", "value": -6}, "value": -3}}}}},
  {"transform": [{"filter": "datum.k=='yl'"}], "mark": {"type": "text", "align": "right", "baseline": "middle", "fontSize": 10, "color": "#222"},
   "encoding": {"x": {"field": "nu", "type": "quantitative", "scale": {"type": "log", "domain": [0.5, 250], "nice": false}}, "y": {"field": "res", "type": "quantitative", "scale": {"domain": [-5.8, 6.2], "nice": false, "zero": false}}, "text": {"field": "t"}}},
  {"transform": [{"filter": "datum.k=='o'"}], "mark": {"type": "line", "color": "#777", "strokeWidth": 0.8, "strokeDash": [4,2,1,2], "clip": true},
   "encoding": {"x": {"field": "nu", "type": "quantitative", "scale": {"type": "log", "domain": [0.5, 250], "nice": false}}, "y": {"field": "res", "type": "quantitative", "scale": {"domain": [-5.8, 6.2], "nice": false, "zero": false}}}},
  {"transform": [{"filter": "datum.k=='o'"}], "mark": {"type": "point", "filled": false, "color": "#555", "size": 28, "strokeWidth": 0.9, "clip": true},
   "encoding": {"x": {"field": "nu", "type": "quantitative", "scale": {"type": "log", "domain": [0.5, 250], "nice": false}}, "y": {"field": "res", "type": "quantitative", "scale": {"domain": [-5.8, 6.2], "nice": false, "zero": false}}}},
  {"transform": [{"filter": "datum.k=='f'"}], "mark": {"type": "line", "color": "black", "strokeWidth": 1.8, "clip": true},
   "encoding": {"x": {"field": "nu", "type": "quantitative", "scale": {"type": "log", "domain": [0.5, 250], "nice": false}}, "y": {"field": "res", "type": "quantitative", "scale": {"domain": [-5.8, 6.2], "nice": false, "zero": false}}}},
  {"transform": [{"filter": "datum.k=='f'"}], "mark": {"type": "circle", "color": "black", "size": 26, "opacity": 1, "clip": true},
   "encoding": {"x": {"field": "nu", "type": "quantitative", "scale": {"type": "log", "domain": [0.5, 250], "nice": false}}, "y": {"field": "res", "type": "quantitative", "scale": {"domain": [-5.8, 6.2], "nice": false, "zero": false}}}},
  {"transform": [{"filter": "datum.k=='lab'"}], "mark": {"type": "text", "align": "left", "baseline": "middle", "fontSize": 12.5, "color": "black"},
   "encoding": {"x": {"field": "nu", "type": "quantitative", "scale": {"type": "log", "domain": [0.5, 250], "nice": false}}, "y": {"field": "res", "type": "quantitative", "scale": {"domain": [-5.8, 6.2], "nice": false, "zero": false}}, "text": {"field": "t"}}},
  {"transform": [{"filter": "datum.k=='chi'"}], "mark": {"type": "text", "align": "left", "baseline": "middle", "fontSize": 11, "color": "black"},
   "encoding": {"x": {"field": "nu", "type": "quantitative", "scale": {"type": "log", "domain": [0.5, 250], "nice": false}}, "y": {"field": "res", "type": "quantitative", "scale": {"domain": [-5.8, 6.2], "nice": false, "zero": false}}, "text": {"field": "t"}}}
 ]}},
{"data": {"name": "sed"}, "transform": [{"filter": "datum.r==1"}], "facet": {"column": {"field": "c", "type": "ordinal", "header": null}}, "spacing": 0, "bounds": "flush",
 "spec": {"width": 169, "height": 117, "layer": [
  {"transform": [{"filter": "datum.k=='comp'"}], "mark": {"type": "line", "color": "black", "strokeWidth": 1, "clip": true},
   "encoding": {"x": {"field": "nu", "type": "quantitative", "scale": {"type": "log", "domain": [0.5, 250], "nice": false}, "axis": {"title": null, "labels": false, "minExtent": 0, "maxExtent": 0, "values": [0.5,0.6,0.7,0.8,0.9,1,2,3,4,5,6,7,8,9,10,20,30,40,50,60,70,80,90,100,200], "tickSize": {"condition": {"test": "datum.value==1||datum.value==10||datum.value==100", "value": -6}, "value": -3}}},
    "y": {"field": "S", "type": "quantitative", "scale": {"type": "log", "domain": [0.075, 100], "nice": false}, "axis": {"title": "Sᵥ (mJy)", "titleX": -24, "values": [0.08,0.09,0.1,0.2,0.3,0.4,0.5,0.6,0.7,0.8,0.9,1,2,3,4,5,6,7,8,9,10,20,30,40,50,60,70,80,90,100], "labelExpr": "datum.value==0.1?'0.1':datum.value==1?'1.0':datum.value==10?'10.0':datum.value==100?'100.0':''", "tickSize": {"condition": {"test": "datum.value==0.1||datum.value==1||datum.value==10||datum.value==100", "value": -6}, "value": -3}}},
    "detail": {"field": "s"},
    "strokeDash": {"field": "s", "type": "nominal", "scale": {"domain": ["syn","ff","dust"], "range": [[7,4],[7,2,1.5,2,1.5,2,1.5,2],[5,3]]}, "legend": null}}},
  {"transform": [{"filter": "datum.k=='spd'"}], "mark": {"type": "line", "color": "black", "strokeWidth": 1, "strokeDash": [1,2], "interpolate": "monotone", "clip": true},
   "encoding": {"x": {"field": "nu", "type": "quantitative", "scale": {"type": "log", "domain": [0.5, 250], "nice": false}}, "y": {"field": "S", "type": "quantitative", "scale": {"type": "log", "domain": [0.075, 100], "nice": false}}}},
  {"transform": [{"filter": "datum.k=='alt'"}], "mark": {"type": "line", "color": "#777", "strokeWidth": 1, "interpolate": "monotone", "clip": true},
   "encoding": {"x": {"field": "nu", "type": "quantitative", "scale": {"type": "log", "domain": [0.5, 250], "nice": false}}, "y": {"field": "S", "type": "quantitative", "scale": {"type": "log", "domain": [0.075, 100], "nice": false}}}},
  {"transform": [{"filter": "datum.k=='tot'"}], "mark": {"type": "line", "color": "black", "strokeWidth": 2.2, "interpolate": "monotone", "clip": true},
   "encoding": {"x": {"field": "nu", "type": "quantitative", "scale": {"type": "log", "domain": [0.5, 250], "nice": false}}, "y": {"field": "S", "type": "quantitative", "scale": {"type": "log", "domain": [0.075, 100], "nice": false}}}},
  {"transform": [{"filter": "datum.k=='pt' && isValid(datum.lo)"}], "mark": {"type": "rule", "color": "#444", "strokeWidth": 1},
   "encoding": {"x": {"field": "nu", "type": "quantitative", "scale": {"type": "log", "domain": [0.5, 250], "nice": false}}, "y": {"field": "lo", "type": "quantitative", "scale": {"type": "log", "domain": [0.075, 100], "nice": false}}, "y2": {"field": "hi"}}},
  {"transform": [{"filter": "datum.k=='pt'"}], "mark": {"type": "point", "shape": "M-1,0L1,0M0,-1L0,1", "size": 30, "color": "#777", "strokeWidth": 1},
   "encoding": {"x": {"field": "nu", "type": "quantitative", "scale": {"type": "log", "domain": [0.5, 250], "nice": false}}, "y": {"field": "S", "type": "quantitative", "scale": {"type": "log", "domain": [0.075, 100], "nice": false}}}},
  {"transform": [{"filter": "datum.k=='pt'"}], "mark": {"type": "circle", "size": 6, "color": "black", "opacity": 1},
   "encoding": {"x": {"field": "nu", "type": "quantitative", "scale": {"type": "log", "domain": [0.5, 250], "nice": false}}, "y": {"field": "S", "type": "quantitative", "scale": {"type": "log", "domain": [0.075, 100], "nice": false}}}},
  {"transform": [{"filter": "datum.k=='big'"}], "mark": {"type": "point", "shape": "M-1,0L1,0M0,-1L0,1", "size": 160, "color": "black", "strokeWidth": 1.3},
   "encoding": {"x": {"field": "nu", "type": "quantitative", "scale": {"type": "log", "domain": [0.5, 250], "nice": false}}, "y": {"field": "S", "type": "quantitative", "scale": {"type": "log", "domain": [0.075, 100], "nice": false}}}},
  {"transform": [{"filter": "datum.k=='t' && datum.v=='m'"}], "mark": {"type": "text", "align": "left", "baseline": "middle", "fontSize": 11, "color": "black"},
   "encoding": {"x": {"field": "nu", "type": "quantitative", "scale": {"type": "log", "domain": [0.5, 250], "nice": false}}, "y": {"field": "S", "type": "quantitative", "scale": {"type": "log", "domain": [0.075, 100], "nice": false}}, "text": {"field": "t"}}},
  {"transform": [{"filter": "datum.k=='t' && datum.v=='i'"}], "mark": {"type": "text", "align": "left", "baseline": "middle", "fontSize": 12, "fontStyle": "italic", "color": "black"},
   "encoding": {"x": {"field": "nu", "type": "quantitative", "scale": {"type": "log", "domain": [0.5, 250], "nice": false}}, "y": {"field": "S", "type": "quantitative", "scale": {"type": "log", "domain": [0.075, 100], "nice": false}}, "text": {"field": "t"}}},
  {"transform": [{"filter": "datum.k=='t' && (datum.v=='p' || datum.v=='b')"}], "mark": {"type": "text", "align": "left", "baseline": "middle", "fontSize": 6.5, "color": "black"},
   "encoding": {"x": {"field": "nu", "type": "quantitative", "scale": {"type": "log", "domain": [0.5, 250], "nice": false}}, "y": {"field": "S", "type": "quantitative", "scale": {"type": "log", "domain": [0.075, 100], "nice": false}}, "text": {"field": "t"}}}
 ]}},
{"data": {"name": "res"}, "transform": [{"filter": "datum.r==1"}], "facet": {"column": {"field": "c", "type": "ordinal", "header": null}}, "spacing": 0, "bounds": "flush",
 "spec": {"width": 169, "height": 65, "layer": [
  {"transform": [{"filter": "datum.k=='z'"}], "mark": {"type": "line", "color": "#666", "strokeWidth": 1},
   "encoding": {"x": {"field": "nu", "type": "quantitative", "scale": {"type": "log", "domain": [0.5, 250], "nice": false}, "axis": {"title": null, "labels": false, "minExtent": 0, "maxExtent": 0, "values": [0.5,0.6,0.7,0.8,0.9,1,2,3,4,5,6,7,8,9,10,20,30,40,50,60,70,80,90,100,200], "tickSize": {"condition": {"test": "datum.value==1||datum.value==10||datum.value==100", "value": -6}, "value": -3}}},
    "y": {"field": "res", "type": "quantitative", "scale": {"domain": [-5.8, 6.2], "nice": false, "zero": false}, "axis": {"title": "(Sᵥ−Sᵥᵐᵒᵈ)/σᵥ", "titleFontSize": 9.5, "titleX": -24, "labels": false, "values": [-5,-4,-3,-2,-1,0,1,2,3,4,5], "tickSize": {"condition": {"test": "datum.value==4||datum.value==2||datum.value==0||datum.value==-2||datum.value==-4", "value": -6}, "value": -3}}}}},
  {"transform": [{"filter": "datum.k=='yl'"}], "mark": {"type": "text", "align": "right", "baseline": "middle", "fontSize": 10, "color": "#222"},
   "encoding": {"x": {"field": "nu", "type": "quantitative", "scale": {"type": "log", "domain": [0.5, 250], "nice": false}}, "y": {"field": "res", "type": "quantitative", "scale": {"domain": [-5.8, 6.2], "nice": false, "zero": false}}, "text": {"field": "t"}}},
  {"transform": [{"filter": "datum.k=='o'"}], "mark": {"type": "line", "color": "#777", "strokeWidth": 0.8, "strokeDash": [4,2,1,2], "clip": true},
   "encoding": {"x": {"field": "nu", "type": "quantitative", "scale": {"type": "log", "domain": [0.5, 250], "nice": false}}, "y": {"field": "res", "type": "quantitative", "scale": {"domain": [-5.8, 6.2], "nice": false, "zero": false}}}},
  {"transform": [{"filter": "datum.k=='o'"}], "mark": {"type": "point", "filled": false, "color": "#555", "size": 28, "strokeWidth": 0.9, "clip": true},
   "encoding": {"x": {"field": "nu", "type": "quantitative", "scale": {"type": "log", "domain": [0.5, 250], "nice": false}}, "y": {"field": "res", "type": "quantitative", "scale": {"domain": [-5.8, 6.2], "nice": false, "zero": false}}}},
  {"transform": [{"filter": "datum.k=='f'"}], "mark": {"type": "line", "color": "black", "strokeWidth": 1.8, "clip": true},
   "encoding": {"x": {"field": "nu", "type": "quantitative", "scale": {"type": "log", "domain": [0.5, 250], "nice": false}}, "y": {"field": "res", "type": "quantitative", "scale": {"domain": [-5.8, 6.2], "nice": false, "zero": false}}}},
  {"transform": [{"filter": "datum.k=='f'"}], "mark": {"type": "circle", "color": "black", "size": 26, "opacity": 1, "clip": true},
   "encoding": {"x": {"field": "nu", "type": "quantitative", "scale": {"type": "log", "domain": [0.5, 250], "nice": false}}, "y": {"field": "res", "type": "quantitative", "scale": {"domain": [-5.8, 6.2], "nice": false, "zero": false}}}},
  {"transform": [{"filter": "datum.k=='lab'"}], "mark": {"type": "text", "align": "left", "baseline": "middle", "fontSize": 12.5, "color": "black"},
   "encoding": {"x": {"field": "nu", "type": "quantitative", "scale": {"type": "log", "domain": [0.5, 250], "nice": false}}, "y": {"field": "res", "type": "quantitative", "scale": {"domain": [-5.8, 6.2], "nice": false, "zero": false}}, "text": {"field": "t"}}},
  {"transform": [{"filter": "datum.k=='chi'"}], "mark": {"type": "text", "align": "left", "baseline": "middle", "fontSize": 11, "color": "black"},
   "encoding": {"x": {"field": "nu", "type": "quantitative", "scale": {"type": "log", "domain": [0.5, 250], "nice": false}}, "y": {"field": "res", "type": "quantitative", "scale": {"domain": [-5.8, 6.2], "nice": false, "zero": false}}, "text": {"field": "t"}}}
 ]}},
{"data": {"name": "sed"}, "transform": [{"filter": "datum.r==2"}], "facet": {"column": {"field": "c", "type": "ordinal", "header": null}}, "spacing": 0, "bounds": "flush",
 "spec": {"width": 169, "height": 117, "layer": [
  {"transform": [{"filter": "datum.k=='comp'"}], "mark": {"type": "line", "color": "black", "strokeWidth": 1, "clip": true},
   "encoding": {"x": {"field": "nu", "type": "quantitative", "scale": {"type": "log", "domain": [0.5, 250], "nice": false}, "axis": {"title": null, "labels": false, "minExtent": 0, "maxExtent": 0, "values": [0.5,0.6,0.7,0.8,0.9,1,2,3,4,5,6,7,8,9,10,20,30,40,50,60,70,80,90,100,200], "tickSize": {"condition": {"test": "datum.value==1||datum.value==10||datum.value==100", "value": -6}, "value": -3}}},
    "y": {"field": "S", "type": "quantitative", "scale": {"type": "log", "domain": [0.075, 100], "nice": false}, "axis": {"title": "Sᵥ (mJy)", "titleX": -24, "values": [0.08,0.09,0.1,0.2,0.3,0.4,0.5,0.6,0.7,0.8,0.9,1,2,3,4,5,6,7,8,9,10,20,30,40,50,60,70,80,90,100], "labelExpr": "datum.value==0.1?'0.1':datum.value==1?'1.0':datum.value==10?'10.0':datum.value==100?'100.0':''", "tickSize": {"condition": {"test": "datum.value==0.1||datum.value==1||datum.value==10||datum.value==100", "value": -6}, "value": -3}}},
    "detail": {"field": "s"},
    "strokeDash": {"field": "s", "type": "nominal", "scale": {"domain": ["syn","ff","dust"], "range": [[7,4],[7,2,1.5,2,1.5,2,1.5,2],[5,3]]}, "legend": null}}},
  {"transform": [{"filter": "datum.k=='spd'"}], "mark": {"type": "line", "color": "black", "strokeWidth": 1, "strokeDash": [1,2], "interpolate": "monotone", "clip": true},
   "encoding": {"x": {"field": "nu", "type": "quantitative", "scale": {"type": "log", "domain": [0.5, 250], "nice": false}}, "y": {"field": "S", "type": "quantitative", "scale": {"type": "log", "domain": [0.075, 100], "nice": false}}}},
  {"transform": [{"filter": "datum.k=='alt'"}], "mark": {"type": "line", "color": "#777", "strokeWidth": 1, "interpolate": "monotone", "clip": true},
   "encoding": {"x": {"field": "nu", "type": "quantitative", "scale": {"type": "log", "domain": [0.5, 250], "nice": false}}, "y": {"field": "S", "type": "quantitative", "scale": {"type": "log", "domain": [0.075, 100], "nice": false}}}},
  {"transform": [{"filter": "datum.k=='tot'"}], "mark": {"type": "line", "color": "black", "strokeWidth": 2.2, "interpolate": "monotone", "clip": true},
   "encoding": {"x": {"field": "nu", "type": "quantitative", "scale": {"type": "log", "domain": [0.5, 250], "nice": false}}, "y": {"field": "S", "type": "quantitative", "scale": {"type": "log", "domain": [0.075, 100], "nice": false}}}},
  {"transform": [{"filter": "datum.k=='pt' && isValid(datum.lo)"}], "mark": {"type": "rule", "color": "#444", "strokeWidth": 1},
   "encoding": {"x": {"field": "nu", "type": "quantitative", "scale": {"type": "log", "domain": [0.5, 250], "nice": false}}, "y": {"field": "lo", "type": "quantitative", "scale": {"type": "log", "domain": [0.075, 100], "nice": false}}, "y2": {"field": "hi"}}},
  {"transform": [{"filter": "datum.k=='pt'"}], "mark": {"type": "point", "shape": "M-1,0L1,0M0,-1L0,1", "size": 30, "color": "#777", "strokeWidth": 1},
   "encoding": {"x": {"field": "nu", "type": "quantitative", "scale": {"type": "log", "domain": [0.5, 250], "nice": false}}, "y": {"field": "S", "type": "quantitative", "scale": {"type": "log", "domain": [0.075, 100], "nice": false}}}},
  {"transform": [{"filter": "datum.k=='pt'"}], "mark": {"type": "circle", "size": 6, "color": "black", "opacity": 1},
   "encoding": {"x": {"field": "nu", "type": "quantitative", "scale": {"type": "log", "domain": [0.5, 250], "nice": false}}, "y": {"field": "S", "type": "quantitative", "scale": {"type": "log", "domain": [0.075, 100], "nice": false}}}},
  {"transform": [{"filter": "datum.k=='big'"}], "mark": {"type": "point", "shape": "M-1,0L1,0M0,-1L0,1", "size": 160, "color": "black", "strokeWidth": 1.3},
   "encoding": {"x": {"field": "nu", "type": "quantitative", "scale": {"type": "log", "domain": [0.5, 250], "nice": false}}, "y": {"field": "S", "type": "quantitative", "scale": {"type": "log", "domain": [0.075, 100], "nice": false}}}},
  {"transform": [{"filter": "datum.k=='t' && datum.v=='m'"}], "mark": {"type": "text", "align": "left", "baseline": "middle", "fontSize": 11, "color": "black"},
   "encoding": {"x": {"field": "nu", "type": "quantitative", "scale": {"type": "log", "domain": [0.5, 250], "nice": false}}, "y": {"field": "S", "type": "quantitative", "scale": {"type": "log", "domain": [0.075, 100], "nice": false}}, "text": {"field": "t"}}},
  {"transform": [{"filter": "datum.k=='t' && datum.v=='i'"}], "mark": {"type": "text", "align": "left", "baseline": "middle", "fontSize": 12, "fontStyle": "italic", "color": "black"},
   "encoding": {"x": {"field": "nu", "type": "quantitative", "scale": {"type": "log", "domain": [0.5, 250], "nice": false}}, "y": {"field": "S", "type": "quantitative", "scale": {"type": "log", "domain": [0.075, 100], "nice": false}}, "text": {"field": "t"}}},
  {"transform": [{"filter": "datum.k=='t' && (datum.v=='p' || datum.v=='b')"}], "mark": {"type": "text", "align": "left", "baseline": "middle", "fontSize": 6.5, "color": "black"},
   "encoding": {"x": {"field": "nu", "type": "quantitative", "scale": {"type": "log", "domain": [0.5, 250], "nice": false}}, "y": {"field": "S", "type": "quantitative", "scale": {"type": "log", "domain": [0.075, 100], "nice": false}}, "text": {"field": "t"}}}
 ]}},
{"data": {"name": "res"}, "transform": [{"filter": "datum.r==2"}], "facet": {"column": {"field": "c", "type": "ordinal", "title": "ν (GHz)", "header": {"labels": false, "titleOrient": "bottom", "titleFont": "Liberation Serif", "titleFontSize": 11, "titleFontWeight": "normal", "titleColor": "#222", "titlePadding": 0}}}, "spacing": 0, "bounds": "flush",
 "spec": {"width": 169, "height": 65, "layer": [
  {"transform": [{"filter": "datum.k=='z'"}], "mark": {"type": "line", "color": "#666", "strokeWidth": 1},
   "encoding": {"x": {"field": "nu", "type": "quantitative", "scale": {"type": "log", "domain": [0.5, 250], "nice": false}, "axis": {"title": null, "values": [0.5,0.6,0.7,0.8,0.9,1,2,3,4,5,6,7,8,9,10,20,30,40,50,60,70,80,90,100,200], "labelExpr": "datum.value==1?'1':datum.value==10?'10':datum.value==100?'100':''", "tickSize": {"condition": {"test": "datum.value==1||datum.value==10||datum.value==100", "value": -6}, "value": -3}}},
    "y": {"field": "res", "type": "quantitative", "scale": {"domain": [-5.8, 6.2], "nice": false, "zero": false}, "axis": {"title": "(Sᵥ−Sᵥᵐᵒᵈ)/σᵥ", "titleFontSize": 9.5, "titleX": -24, "labels": false, "values": [-5,-4,-3,-2,-1,0,1,2,3,4,5], "tickSize": {"condition": {"test": "datum.value==4||datum.value==2||datum.value==0||datum.value==-2||datum.value==-4", "value": -6}, "value": -3}}}}},
  {"transform": [{"filter": "datum.k=='yl'"}], "mark": {"type": "text", "align": "right", "baseline": "middle", "fontSize": 10, "color": "#222"},
   "encoding": {"x": {"field": "nu", "type": "quantitative", "scale": {"type": "log", "domain": [0.5, 250], "nice": false}}, "y": {"field": "res", "type": "quantitative", "scale": {"domain": [-5.8, 6.2], "nice": false, "zero": false}}, "text": {"field": "t"}}},
  {"transform": [{"filter": "datum.k=='o'"}], "mark": {"type": "line", "color": "#777", "strokeWidth": 0.8, "strokeDash": [4,2,1,2], "clip": true},
   "encoding": {"x": {"field": "nu", "type": "quantitative", "scale": {"type": "log", "domain": [0.5, 250], "nice": false}}, "y": {"field": "res", "type": "quantitative", "scale": {"domain": [-5.8, 6.2], "nice": false, "zero": false}}}},
  {"transform": [{"filter": "datum.k=='o'"}], "mark": {"type": "point", "filled": false, "color": "#555", "size": 28, "strokeWidth": 0.9, "clip": true},
   "encoding": {"x": {"field": "nu", "type": "quantitative", "scale": {"type": "log", "domain": [0.5, 250], "nice": false}}, "y": {"field": "res", "type": "quantitative", "scale": {"domain": [-5.8, 6.2], "nice": false, "zero": false}}}},
  {"transform": [{"filter": "datum.k=='f'"}], "mark": {"type": "line", "color": "black", "strokeWidth": 1.8, "clip": true},
   "encoding": {"x": {"field": "nu", "type": "quantitative", "scale": {"type": "log", "domain": [0.5, 250], "nice": false}}, "y": {"field": "res", "type": "quantitative", "scale": {"domain": [-5.8, 6.2], "nice": false, "zero": false}}}},
  {"transform": [{"filter": "datum.k=='f'"}], "mark": {"type": "circle", "color": "black", "size": 26, "opacity": 1, "clip": true},
   "encoding": {"x": {"field": "nu", "type": "quantitative", "scale": {"type": "log", "domain": [0.5, 250], "nice": false}}, "y": {"field": "res", "type": "quantitative", "scale": {"domain": [-5.8, 6.2], "nice": false, "zero": false}}}},
  {"transform": [{"filter": "datum.k=='lab'"}], "mark": {"type": "text", "align": "left", "baseline": "middle", "fontSize": 12.5, "color": "black"},
   "encoding": {"x": {"field": "nu", "type": "quantitative", "scale": {"type": "log", "domain": [0.5, 250], "nice": false}}, "y": {"field": "res", "type": "quantitative", "scale": {"domain": [-5.8, 6.2], "nice": false, "zero": false}}, "text": {"field": "t"}}},
  {"transform": [{"filter": "datum.k=='chi'"}], "mark": {"type": "text", "align": "left", "baseline": "middle", "fontSize": 11, "color": "black"},
   "encoding": {"x": {"field": "nu", "type": "quantitative", "scale": {"type": "log", "domain": [0.5, 250], "nice": false}}, "y": {"field": "res", "type": "quantitative", "scale": {"domain": [-5.8, 6.2], "nice": false, "zero": false}}, "text": {"field": "t"}}}
 ]}}
]
}
